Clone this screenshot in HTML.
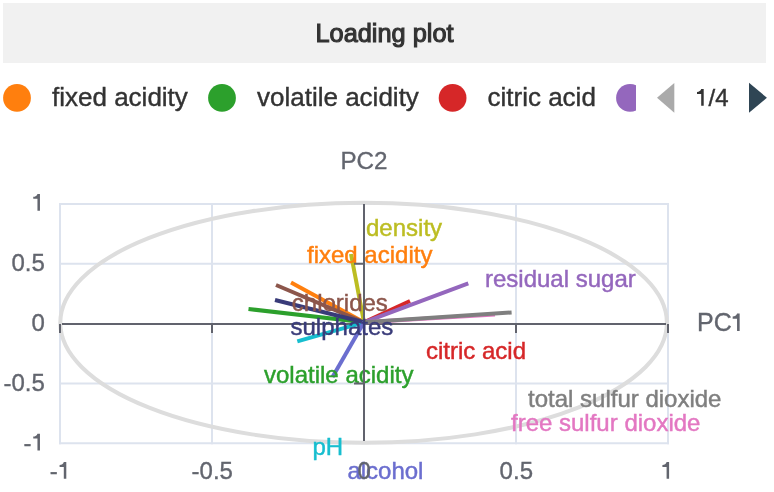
<!DOCTYPE html>
<html><head><meta charset="utf-8">
<style>
html,body{margin:0;padding:0;background:#fff;width:774px;height:492px;overflow:hidden;}
body{font-family:"Liberation Sans",sans-serif;position:relative;}
.hdr{position:absolute;left:3px;top:3px;width:763px;height:60px;background:#f1f1f1;}
svg{position:absolute;left:0;top:0;will-change:transform;}
</style></head><body>
<div class="hdr"></div>
<svg width="774" height="492" viewBox="0 0 774 492" font-family="Liberation Sans, sans-serif">
  <text x="384.5" y="41.9" font-size="25" fill="#333" stroke="#333" stroke-width="1.1" text-anchor="middle" textLength="138" lengthAdjust="spacingAndGlyphs">Loading plot</text>
  <defs><path id="one" d="M6 -16.8H8.5V0H6V-11.9H1.8V-13.9C3.8 -14 5.6 -14.9 6 -16.8Z"/></defs>
  <!-- legend -->
  <circle cx="17" cy="97.9" r="13.9" fill="#ff7f0e"/>
  <text x="52" y="105.5" font-size="26" fill="#333" stroke="#333" stroke-width="0.4">fixed acidity</text>
  <circle cx="222" cy="97.9" r="13.9" fill="#2ca02c"/>
  <text x="257" y="105.5" font-size="26" fill="#333" stroke="#333" stroke-width="0.4">volatile acidity</text>
  <circle cx="452.6" cy="97.9" r="13.9" fill="#d62728"/>
  <text x="487.5" y="105.5" font-size="26" fill="#333" stroke="#333" stroke-width="0.4">citric acid</text>
  <clipPath id="pc"><rect x="600" y="70" width="36" height="50"/></clipPath><circle cx="630" cy="97.9" r="13.9" fill="#9467bd" clip-path="url(#pc)"/>
  <path d="M674.3 83 L657 97.8 L674.3 112.7 Z" fill="#aaa"/>
  <use href="#one" x="695.2" y="105.8" fill="#333"/><text x="708.5" y="105.8" font-size="24" fill="#333" stroke="#333" stroke-width="0.4">/4</text>
  <path d="M749 82.8 L766.9 97.8 L749 112.8 Z" fill="#2f4554"/>

  <!-- grid -->
  <g stroke="#dde3ee" stroke-width="2" fill="none" stroke-linecap="square">
    <line x1="60" y1="204" x2="668" y2="204"/>
    <line x1="60" y1="263.8" x2="668" y2="263.8"/>
    <line x1="60" y1="383.4" x2="668" y2="383.4"/>
    <line x1="60" y1="443.2" x2="668" y2="443.2"/>
    <line x1="60" y1="204" x2="60" y2="443.2"/>
    <line x1="212" y1="204" x2="212" y2="443.2"/>
    <line x1="516" y1="204" x2="516" y2="443.2"/>
    <line x1="668" y1="204" x2="668" y2="443.2"/>
  </g>
  <ellipse cx="363.6" cy="322.8" rx="303.3" ry="120" fill="none" stroke="#dddddd" stroke-width="4"/>

  <line x1="62" y1="324" x2="666" y2="324" stroke="#61636d" stroke-width="2"/>
  <!-- vectors -->
  <g stroke-width="4" stroke-linecap="butt">
    <line x1="364" y1="322.3" x2="291" y2="282.5" stroke="#ff7f0e"/>
    <line x1="364" y1="322.3" x2="248.5" y2="309" stroke="#2ca02c"/>
    <line x1="364" y1="322.3" x2="410" y2="301" stroke="#d62728"/>
    <line x1="364" y1="322.3" x2="468.3" y2="283.3" stroke="#9467bd"/>
    <line x1="364" y1="322.3" x2="276" y2="285" stroke="#8c564b"/>
    <line x1="364" y1="322.3" x2="495" y2="314.6" stroke="#e377c2"/>
    <line x1="364" y1="322.3" x2="511.6" y2="312.5" stroke="#7f7f7f"/>
    <line x1="364" y1="322.3" x2="351" y2="254" stroke="#bcbd22"/>
    <line x1="364" y1="322.3" x2="297.3" y2="341.3" stroke="#17becf"/>
    <line x1="364" y1="322.3" x2="275" y2="300" stroke="#393b79"/>
    <line x1="364" y1="322.3" x2="332.5" y2="377" stroke="#6b6ecf"/>
  </g>
  <g font-size="24" stroke-width="0.45" style="paint-order:stroke">
    <text x="366" y="236.3" stroke="#bcbd22" fill="#bcbd22">density</text>
    <text x="307" y="262.5" stroke="#ff7f0e" fill="#ff7f0e">fixed acidity</text>
    <text x="485" y="287" stroke="#9467bd" fill="#9467bd">residual sugar</text>
    <text x="291.8" y="311.2" stroke="#8c564b" fill="#8c564b">chlorides</text>
    <text x="426" y="359" stroke="#d62728" fill="#d62728">citric acid</text>
    <text x="264" y="382.7" stroke="#2ca02c" fill="#2ca02c">volatile acidity</text>
    <text x="528" y="407" stroke="#7f7f7f" fill="#7f7f7f">total sulfur dioxide</text>
    <text x="511" y="431" stroke="#e377c2" fill="#e377c2">free sulfur dioxide</text>
    <text x="312.5" y="454.5" stroke="#17becf" fill="#17becf">pH</text>
    <text x="347.4" y="479" stroke="#6b6ecf" fill="#6b6ecf">alcohol</text>
  </g>
  <!-- axes -->
  <g stroke="#61636d" stroke-width="2" fill="none">
    <line x1="364" y1="204" x2="364" y2="441"/>
    <path d="M60 324V333M212 324V333M516 324V333M668 324V333"/>
    <path d="M354 263.8H364M354 383.4H364"/>
  </g>
  <text x="290.5" y="335.3" font-size="24" stroke-width="0.45" stroke="#393b79" fill="#393b79" style="paint-order:stroke">sulphates</text>
  <!-- ticks -->
  <g font-size="24" fill="#62656e" stroke="#62656e" stroke-width="0.35" text-anchor="end">
    <text x="44.8" y="270.6">0.5</text>
    <text x="44.8" y="330.7">0</text>
    <text x="44.8" y="390.5">-0.5</text>
    <text x="31.45" y="450.5">-</text>
  </g>
  <g font-size="24" fill="#62656e" stroke="#62656e" stroke-width="0.35" text-anchor="middle">
    <text x="53.8" y="478.8">-</text>
    <text x="212.3" y="478.8">-0.5</text>
    <text x="364.3" y="478.8">0</text>
    <text x="516.3" y="478.8">0.5</text>

  </g>
  <text x="364" y="168.8" font-size="24.2" fill="#62656e" stroke="#62656e" stroke-width="0.35" text-anchor="middle">PC2</text>
  <text x="697" y="331.1" font-size="25" fill="#62656e" stroke="#62656e" stroke-width="0.35">PC</text>
  <g fill="#62656e">
    <use href="#one" x="31.45" y="210.7"/>
    <use href="#one" x="31.45" y="450.5"/>
    <use href="#one" x="57.8" y="478.8"/>
    <use href="#one" x="660.6" y="478.8"/>
    <use href="#one" x="730.8" y="331.1" transform="translate(730.8 331.1) scale(1.0417) translate(-730.8 -331.1)"/>
  </g>
</svg>
</body></html>
